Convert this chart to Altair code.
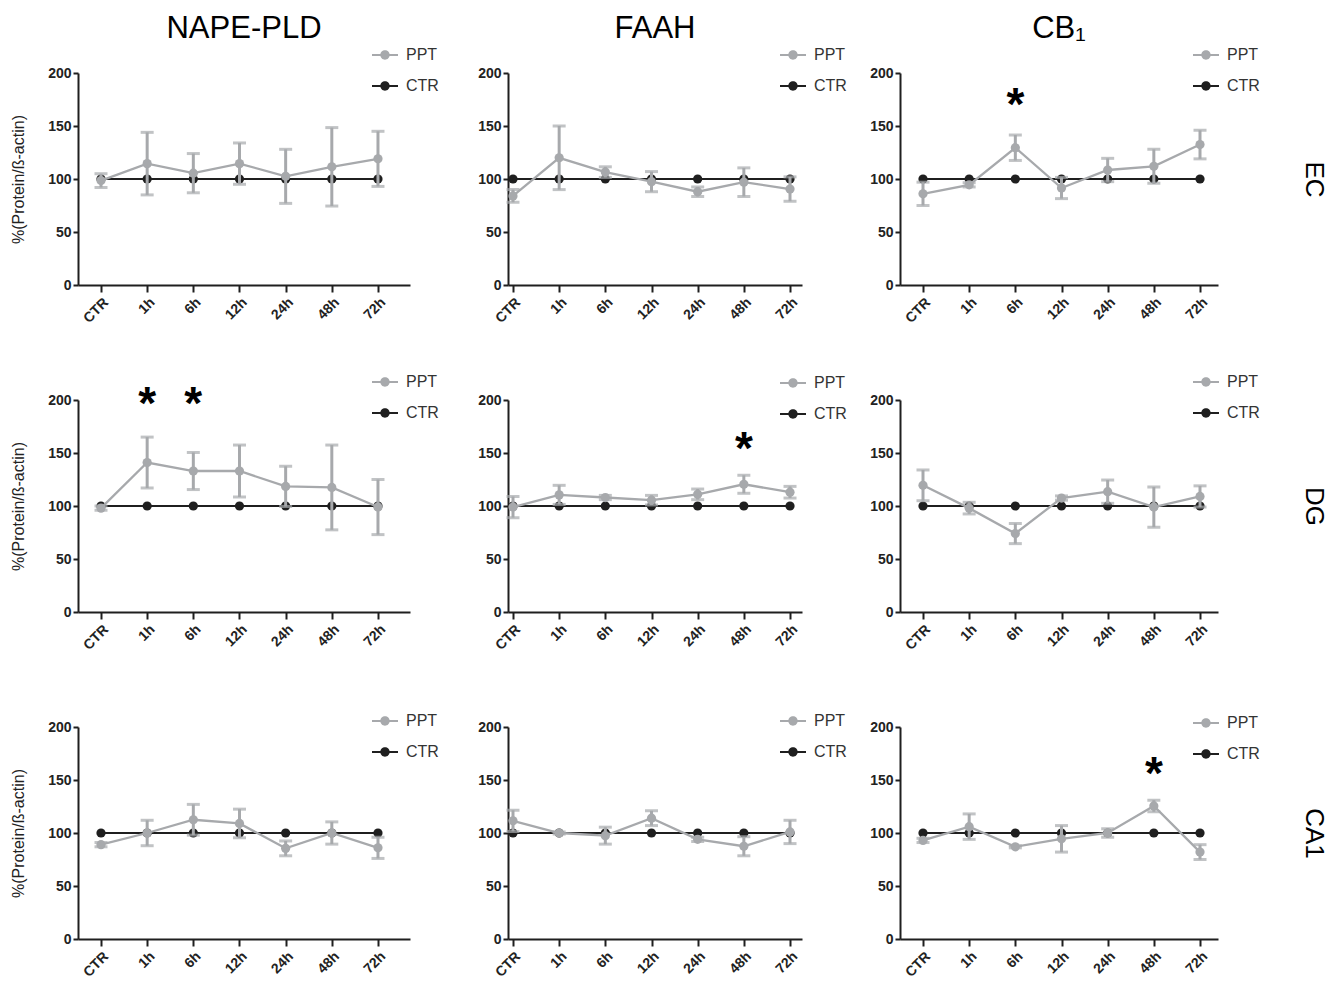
import altair as alt
import pandas as pd

# ---------------- data ----------------
times = ["CTR", "1h", "6h", "12h", "24h", "48h", "72h"]
genes = ["NAPE-PLD", "FAAH", "CB₁"]
regions = ["EC", "DG", "CA1"]
groups = ["PPT", "CTR"]
ctr_values = [100, 100, 100, 100, 100, 100, 100]

# EC
ec_nape_mean = [98.5, 114.5, 105.5, 114.5, 102.5, 111.5, 119]
ec_nape_err = [6.5, 29.5, 18.5, 19.5, 25.5, 37, 26]
ec_faah_mean = [84, 120, 106.5, 97.5, 88, 97, 90.5]
ec_faah_err = [6, 30, 5, 9.5, 4.5, 13.5, 11.5]
ec_cb1_mean = [86, 94.5, 129.5, 91.5, 108.5, 112, 132.5]
ec_cb1_err = [11, 2, 12, 10, 11, 16, 13.5]
# DG
dg_nape_mean = [98, 141, 133, 133, 118.5, 117.5, 99]
dg_nape_err = [2, 24, 17.5, 24.5, 19, 40, 26]
dg_faah_mean = [99, 110.5, 108, 105.5, 111, 120.5, 113]
dg_faah_err = [10, 9, 2, 4.5, 5, 8.5, 5.5]
dg_cb1_mean = [119.5, 98, 74, 107.5, 113.5, 99, 109]
dg_cb1_err = [14.5, 5.5, 9.5, 2, 11, 19, 10]
# CA1
ca1_nape_mean = [89, 100, 112.5, 109, 85.5, 100, 86]
ca1_nape_err = [2, 12, 14.5, 13.5, 7, 10.5, 10]
ca1_faah_mean = [111.5, 100, 97.5, 114, 94, 87.5, 101]
ca1_faah_err = [10, 1, 8, 7, 2, 9, 11]
ca1_cb1_mean = [93, 106, 87, 94.5, 100, 125.5, 82]
ca1_cb1_err = [2, 12, 1, 12.5, 4, 5.5, 7]

# significance stars (time, value of star centre)
ec_cb1_star_t = ["6h"]
ec_cb1_star_v = [178]
dg_nape_star_t = ["1h", "6h"]
dg_nape_star_v = [205, 205]
dg_faah_star_t = ["48h"]
dg_faah_star_v = [162]
ca1_cb1_star_t = ["48h"]
ca1_cb1_star_v = [164]

panels_data = [
    [(ec_nape_mean, ec_nape_err, [], []),
     (ec_faah_mean, ec_faah_err, [], []),
     (ec_cb1_mean, ec_cb1_err, ec_cb1_star_t, ec_cb1_star_v)],
    [(dg_nape_mean, dg_nape_err, dg_nape_star_t, dg_nape_star_v),
     (dg_faah_mean, dg_faah_err, dg_faah_star_t, dg_faah_star_v),
     (dg_cb1_mean, dg_cb1_err, [], [])],
    [(ca1_nape_mean, ca1_nape_err, [], []),
     (ca1_faah_mean, ca1_faah_err, [], []),
     (ca1_cb1_mean, ca1_cb1_err, ca1_cb1_star_t, ca1_cb1_star_v)],
]

# ---------------- style / layout ----------------
GRAY = "#a7a9ac"
BLACK = "#1f1f1f"
FONT = "Liberation Sans"
H = 212
widths = [332, 294, 318]
pads = [0.596, 0.184, 0.444]
aligns = [0.418, 0.294, 0.561]
legend_x = [294, 272, 293]
legend_y = [[-31, -31, -31], [-31, -30, -31], [-19, -19, -17]]
SYM = ("M-1,-0.085L1,-0.085L1,0.085L-1,0.085Z "
       "M0.36,0A0.36,0.36 0 1,1 -0.36,0A0.36,0.36 0 1,1 0.36,0Z")


def make_panel(r, c):
    mean, err, st_t, st_v = panels_data[r][c]
    df = pd.DataFrame({
        "time": times + times,
        "group": ["CTR"] * 7 + ["PPT"] * 7,
        "value": ctr_values + mean,
        "err": [0] * 7 + err,
    })
    df["lo"] = df["value"] - df["err"]
    df["hi"] = df["value"] + df["err"]

    xenc = alt.X(
        "time:N", sort=times, title=None,
        scale=alt.Scale(type="point", padding=pads[c], align=aligns[c]),
        axis=alt.Axis(labelAngle=-45, labelFontSize=14, labelFontWeight="bold",
                      labelColor="#222", tickSize=7, labelPadding=3),
    )
    yscale = alt.Scale(domain=[0, 200], nice=False)
    yaxis = alt.Axis(values=[0, 50, 100, 150, 200], labelFontSize=14,
                     labelFontWeight="bold", labelColor="#222", tickSize=5,
                     labelPadding=2,
                     title="%(Protein/ß-actin)" if c == 0 else None,
                     titleFontSize=16, titleFontWeight="normal",
                     titleColor="#222", titlePadding=21)
    legend = alt.Legend(title=None, orient="none", legendX=legend_x[c],
                        legendY=legend_y[r][c], symbolType=SYM, symbolSize=676,
                        symbolStrokeWidth=0, symbolOpacity=1,
                        labelFontSize=16, labelColor="#333", labelOffset=8,
                        rowPadding=10, padding=0)
    color = alt.Color("group:N", scale=alt.Scale(domain=groups, range=[GRAY, BLACK]),
                      legend=legend)

    def Y(f):
        return alt.Y(f, scale=yscale, axis=yaxis)

    base = alt.Chart(df)
    ctr = base.transform_filter("datum.group == 'CTR'")
    ppt = base.transform_filter("datum.group == 'PPT'")
    layers = [
        ctr.mark_point(filled=True, size=85, opacity=1).encode(x=xenc, y=Y("value:Q"), color=color),
        ctr.mark_line(strokeWidth=2.2).encode(x=xenc, y=Y("value:Q"), color=color),
        ppt.mark_rule(strokeWidth=3).encode(x=xenc, y=Y("lo:Q"), y2="hi:Q", color=color),
        ppt.mark_tick(size=13, thickness=3).encode(x=xenc, y=Y("lo:Q"), color=color),
        ppt.mark_tick(size=13, thickness=3).encode(x=xenc, y=Y("hi:Q"), color=color),
        ppt.mark_line(strokeWidth=2.3).encode(x=xenc, y=Y("value:Q"), color=color),
        ppt.mark_point(filled=True, size=85, opacity=1).encode(x=xenc, y=Y("value:Q"), color=color),
    ]
    if st_t:
        sdf = pd.DataFrame({"time": st_t, "value": st_v})
        layers.append(
            alt.Chart(sdf).mark_text(text="*", fontSize=46, fontWeight="bold",
                                     color="black", baseline="alphabetic", dy=24)
            .encode(x=xenc, y=Y("value:Q"))
        )
    chart = alt.layer(*layers)
    if c == 2:
        lab = alt.Chart(pd.DataFrame({"v": [0, 200]})).mark_point(opacity=0).encode(
            y=alt.Y("v:Q", scale=alt.Scale(domain=[0, 200], nice=False),
                    axis=alt.Axis(orient="right", labels=False, ticks=False,
                                  domain=False, grid=False, title=regions[r],
                                  titleAngle=90, titleFontSize=26,
                                  titleFontWeight="normal", titleColor="black",
                                  titlePadding=82))
        )
        chart = alt.layer(chart, lab).resolve_scale(y="independent")
    props = dict(width=widths[c], height=H)
    if r == 0:
        props["title"] = alt.TitleParams(text=genes[c], fontSize=31,
                                         fontWeight="normal", color="black",
                                         anchor="middle", frame="group", offset=-3)
    return chart.properties(**props)


panels = [make_panel(r, c) for r in range(3) for c in range(3)]

chart = alt.concat(
    *panels, columns=3, spacing={"row": 115, "column": 98},
    bounds="flush", align="each"
).resolve_scale(
    color="independent", x="independent", y="independent"
).resolve_legend(color="independent").configure(
    font=FONT, padding={"top": 5, "left": 2, "right": 2, "bottom": 2}
).configure_view(stroke=None).configure_axis(
    grid=False, domainColor=BLACK, domainWidth=2, tickColor=BLACK, tickWidth=2
)

chart.save("out.html", embed_options={"renderer": "svg", "actions": False})
